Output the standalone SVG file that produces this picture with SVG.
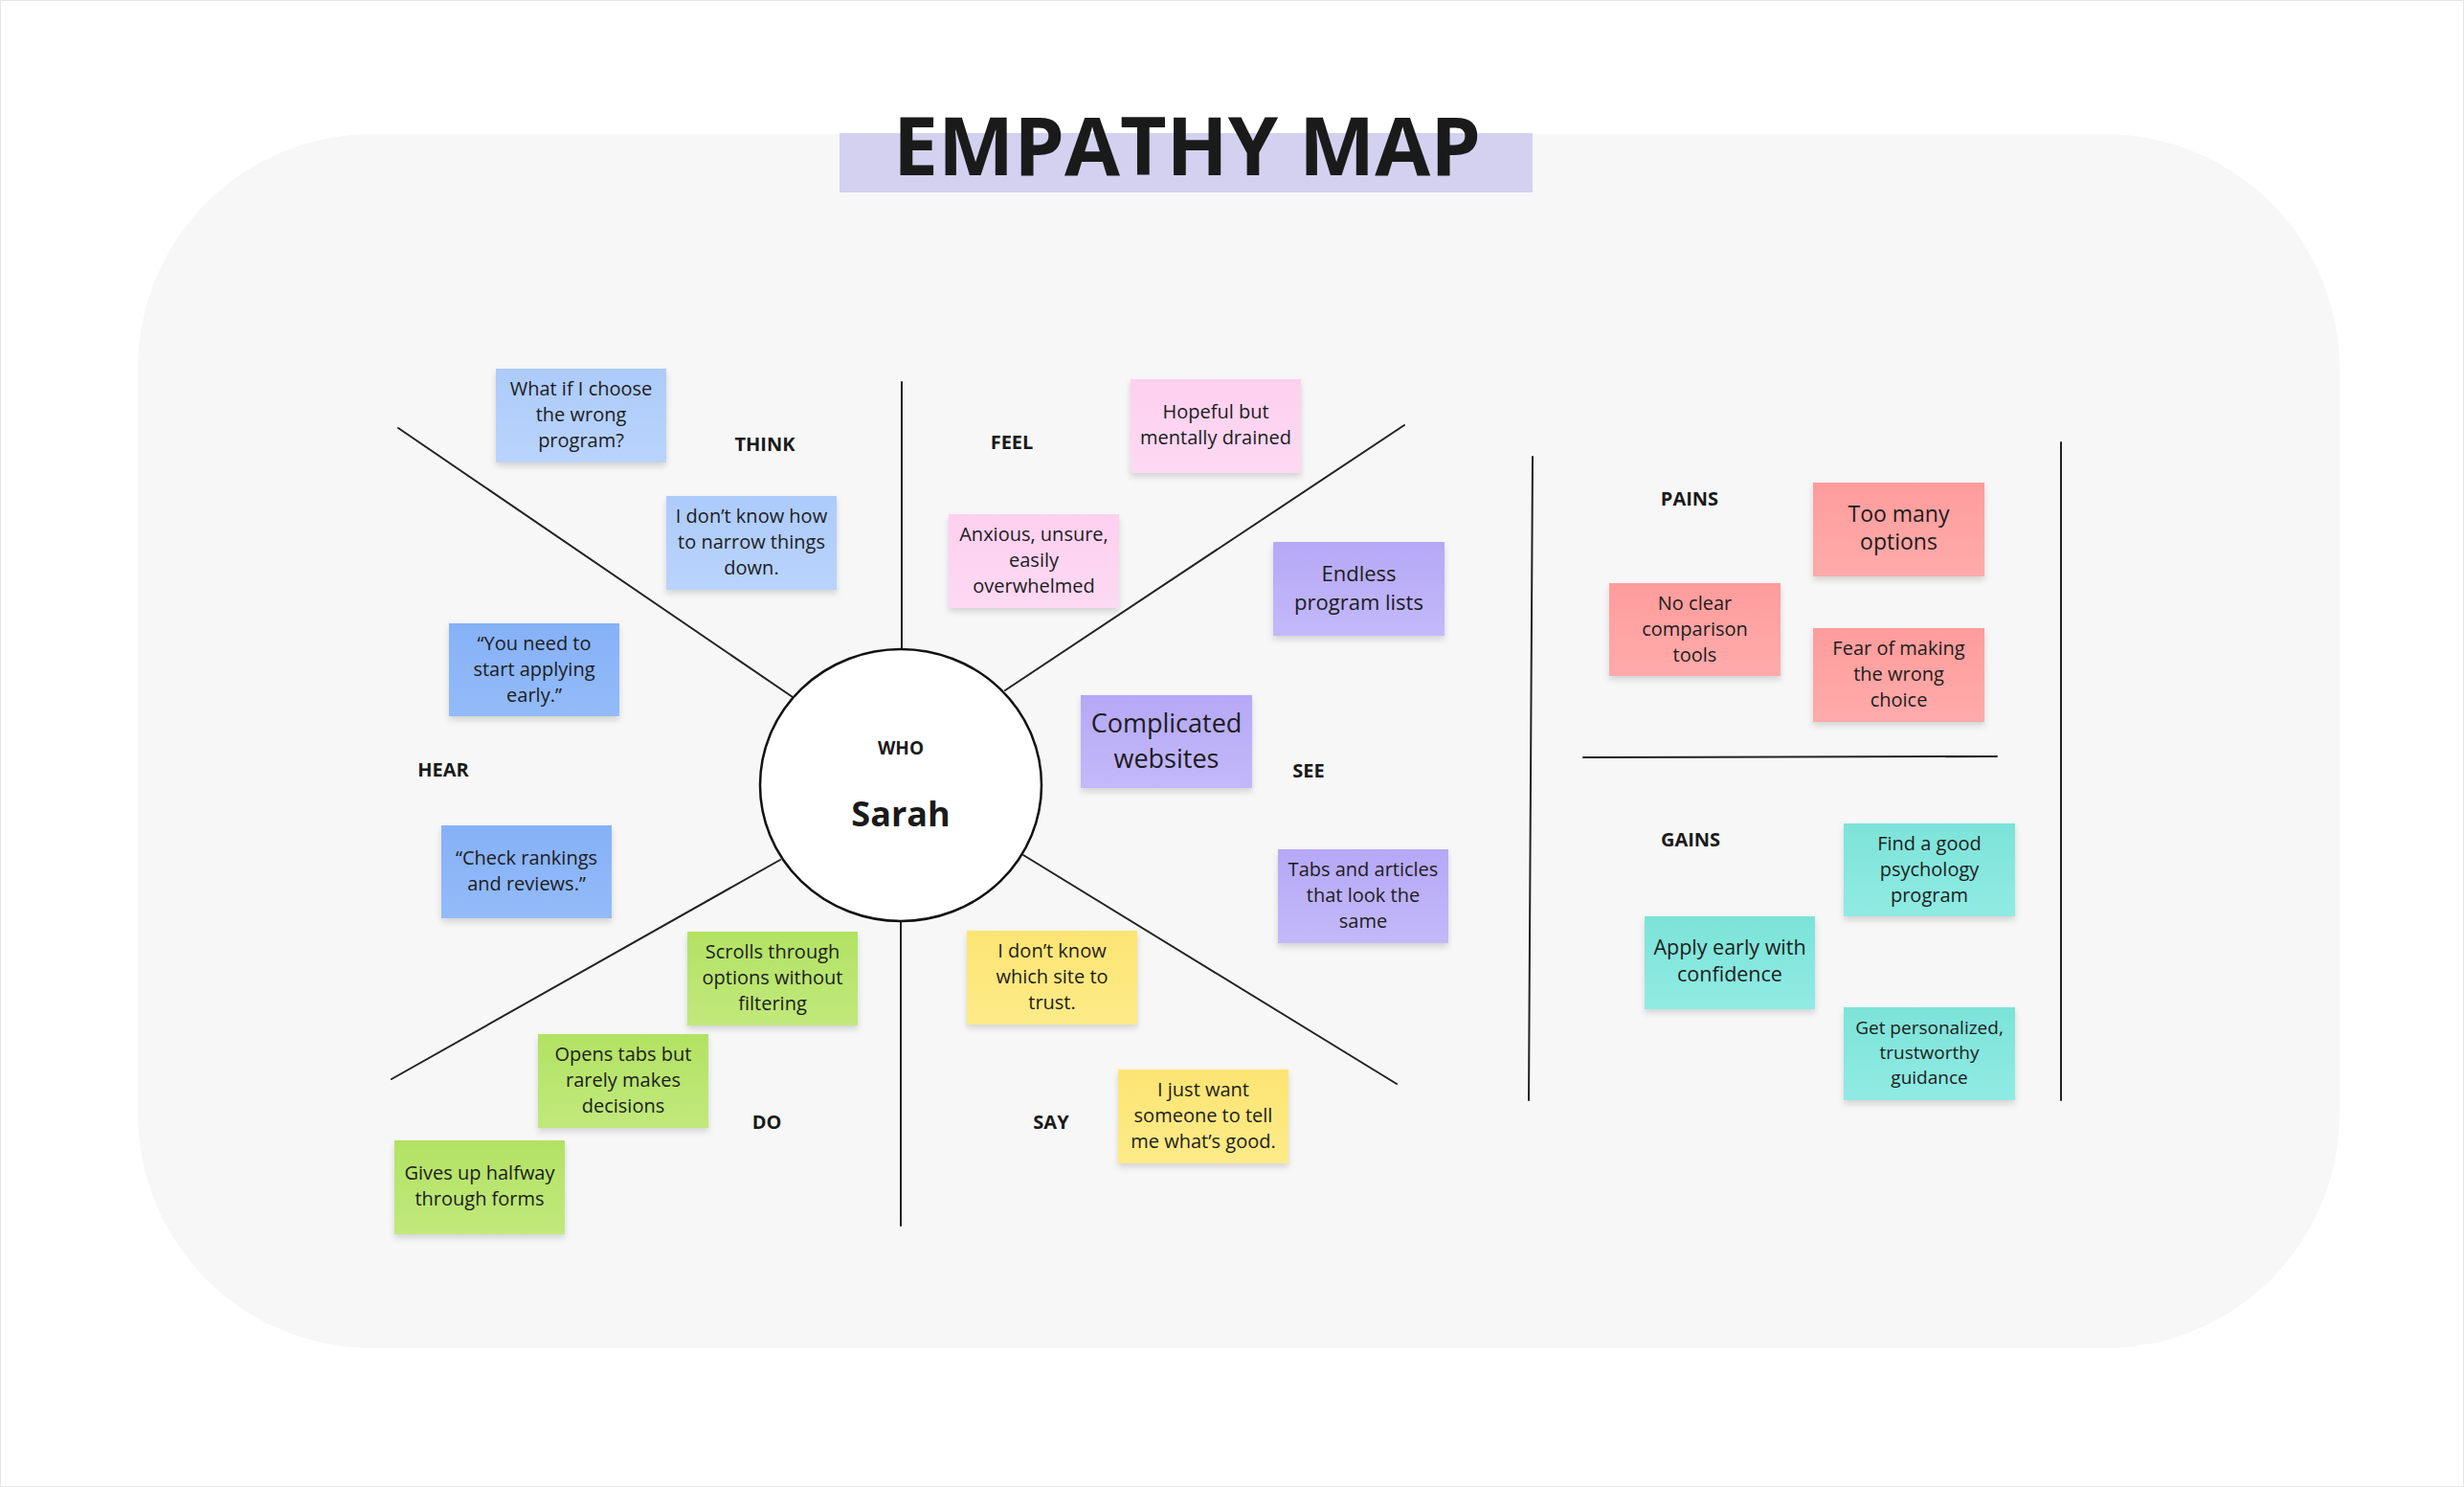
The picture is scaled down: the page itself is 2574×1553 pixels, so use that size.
<svg xmlns="http://www.w3.org/2000/svg" width="2574" height="1553" viewBox="0 0 2574 1553">
  <defs>
    <filter id="sh" x="-10%" y="-10%" width="120%" height="130%">
      <feDropShadow dx="0" dy="4" stdDeviation="3" flood-color="#000" flood-opacity="0.14"/>
    </filter>
    <linearGradient id="gBlueL" x1="0" y1="0" x2="0" y2="1"><stop offset="0" stop-color="#adcbfb"/><stop offset="1" stop-color="#b9d4fc"/></linearGradient>
    <linearGradient id="gBlue" x1="0" y1="0" x2="0" y2="1"><stop offset="0" stop-color="#86b1f7"/><stop offset="1" stop-color="#93bbf9"/></linearGradient>
    <linearGradient id="gPink" x1="0" y1="0" x2="0" y2="1"><stop offset="0" stop-color="#fdd0ef"/><stop offset="1" stop-color="#fdd9f3"/></linearGradient>
    <linearGradient id="gPurple" x1="0" y1="0" x2="0" y2="1"><stop offset="0" stop-color="#b6a8f6"/><stop offset="1" stop-color="#c3b9fa"/></linearGradient>
    <linearGradient id="gGreen" x1="0" y1="0" x2="0" y2="1"><stop offset="0" stop-color="#b2e263"/><stop offset="1" stop-color="#c1e97c"/></linearGradient>
    <linearGradient id="gYellow" x1="0" y1="0" x2="0" y2="1"><stop offset="0" stop-color="#fde573"/><stop offset="1" stop-color="#fdeb88"/></linearGradient>
    <linearGradient id="gRed" x1="0" y1="0" x2="0" y2="1"><stop offset="0" stop-color="#ff9c9c"/><stop offset="1" stop-color="#ffabab"/></linearGradient>
    <linearGradient id="gTeal" x1="0" y1="0" x2="0" y2="1"><stop offset="0" stop-color="#7ce3d9"/><stop offset="1" stop-color="#90ebe3"/></linearGradient>
  </defs>
  <style>
    .note text { font-family: "Open Sans", "Liberation Sans", sans-serif; font-size: 20px; fill: #1c1c1c; text-anchor: middle; }
    .note rect { filter: url(#sh); }
    .note text.f22 { font-size: 22px; }
    .note text.f27 { font-size: 27px; }
    .note text.f23 { font-size: 23px; }
    .note text.f215 { font-size: 21.5px; }
    .note text.f19 { font-size: 19px; }
    .lbl { font-family: "Open Sans", "Liberation Sans", sans-serif; font-weight: 700; font-size: 20px; fill: #1a1a1a; text-anchor: middle; }
    .lbl.who { font-size: 19px; }
    .lbl.name { font-size: 36px; }
    .spoke { stroke: #222; stroke-width: 2; fill: none; stroke-linecap: round; }
  </style>

  <rect x="0.5" y="0.5" width="2573" height="1552" fill="#ffffff" stroke="#e6e6e6" stroke-width="1"/>
  <rect id="board" x="144" y="140" width="2300" height="1268" rx="245" ry="245" fill="#f7f7f7"/>

  <g id="title">
    <rect x="877" y="139" width="724" height="62" fill="#d3d1ef"/>
    <text x="1240" y="183" style="font-family:'Open Sans','Liberation Sans',sans-serif;font-weight:700;font-size:84px" fill="#1a1a1a" text-anchor="middle">EMPATHY MAP</text>
  </g>

  <g id="connectors">
    <line class="spoke" x1="942" y1="399" x2="942" y2="678"/>
    <line class="spoke" x1="941" y1="962" x2="941" y2="1280"/>
    <line class="spoke" x1="416" y1="447" x2="828" y2="728"/>
    <line class="spoke" x1="1050" y1="721" x2="1467" y2="444"/>
    <line class="spoke" x1="815" y1="898" x2="409" y2="1127"/>
    <line class="spoke" x1="1069" y1="893" x2="1459" y2="1132"/>
    <line class="spoke" x1="1601" y1="477" x2="1597" y2="1149"/>
    <line class="spoke" x1="2153" y1="462" x2="2153" y2="1149"/>
    <line class="spoke" x1="1654" y1="791" x2="2086" y2="790"/>
  </g>

  <g id="who">
    <ellipse cx="941" cy="820" rx="147" ry="142" fill="#ffffff" stroke="#111" stroke-width="2.5"/>
    <text class="lbl who" x="941" y="788">WHO</text>
    <text class="lbl name" x="941" y="863">Sarah</text>
  </g>

  <g id="labels">
    <text id="lbl-think" class="lbl" x="799" y="471">THINK</text>
    <text id="lbl-feel" class="lbl" x="1057" y="469">FEEL</text>
    <text id="lbl-hear" class="lbl" x="463" y="811">HEAR</text>
    <text id="lbl-see" class="lbl" x="1367" y="812">SEE</text>
    <text id="lbl-do" class="lbl" x="801" y="1179">DO</text>
    <text id="lbl-say" class="lbl" x="1098" y="1179">SAY</text>
    <text id="lbl-pains" class="lbl" x="1765" y="528">PAINS</text>
    <text id="lbl-gains" class="lbl" x="1766" y="884">GAINS</text>
  </g>

  <g id="think-1" class="note">
    <rect x="518" y="385" width="178" height="98" fill="url(#gBlueL)"/>
    <text x="607" y="413">What if I choose</text>
    <text x="607" y="440">the wrong</text>
    <text x="607" y="467">program?</text>
  </g>
  <g id="think-2" class="note">
    <rect x="696" y="518" width="178" height="98" fill="url(#gBlueL)"/>
    <text x="785" y="546">I don’t know how</text>
    <text x="785" y="573">to narrow things</text>
    <text x="785" y="600">down.</text>
  </g>
  <g id="hear-1" class="note">
    <rect x="469" y="651" width="178" height="97" fill="url(#gBlue)"/>
    <text x="558" y="679">“You need to</text>
    <text x="558" y="706">start applying</text>
    <text x="558" y="733">early.”</text>
  </g>
  <g id="hear-2" class="note">
    <rect x="461" y="862" width="178" height="97" fill="url(#gBlue)"/>
    <text x="550" y="903">“Check rankings</text>
    <text x="550" y="930">and reviews.”</text>
  </g>
  <g id="feel-1" class="note">
    <rect x="1181" y="396" width="178" height="98" fill="url(#gPink)"/>
    <text x="1270" y="437">Hopeful but</text>
    <text x="1270" y="464">mentally drained</text>
  </g>
  <g id="feel-2" class="note">
    <rect x="991" y="537" width="178" height="98" fill="url(#gPink)"/>
    <text x="1080" y="565">Anxious, unsure,</text>
    <text x="1080" y="592">easily</text>
    <text x="1080" y="619">overwhelmed</text>
  </g>
  <g id="see-1" class="note">
    <rect x="1330" y="566" width="179" height="98" fill="url(#gPurple)"/>
    <text class="f22" x="1419.5" y="607">Endless</text>
    <text class="f22" x="1419.5" y="637">program lists</text>
  </g>
  <g id="see-2" class="note">
    <rect x="1129" y="726" width="179" height="97" fill="url(#gPurple)"/>
    <text class="f27" x="1218.5" y="765">Complicated</text>
    <text class="f27" x="1218.5" y="802">websites</text>
  </g>
  <g id="see-3" class="note">
    <rect x="1335" y="887" width="178" height="98" fill="url(#gPurple)"/>
    <text x="1424" y="915">Tabs and articles</text>
    <text x="1424" y="942">that look the</text>
    <text x="1424" y="969">same</text>
  </g>
  <g id="do-1" class="note">
    <rect x="718" y="973" width="178" height="98" fill="url(#gGreen)"/>
    <text x="807" y="1001">Scrolls through</text>
    <text x="807" y="1028">options without</text>
    <text x="807" y="1055">filtering</text>
  </g>
  <g id="do-2" class="note">
    <rect x="562" y="1080" width="178" height="98" fill="url(#gGreen)"/>
    <text x="651" y="1108">Opens tabs but</text>
    <text x="651" y="1135">rarely makes</text>
    <text x="651" y="1162">decisions</text>
  </g>
  <g id="do-3" class="note">
    <rect x="412" y="1191" width="178" height="98" fill="url(#gGreen)"/>
    <text x="501" y="1232">Gives up halfway</text>
    <text x="501" y="1259">through forms</text>
  </g>
  <g id="say-1" class="note">
    <rect x="1010" y="972" width="178" height="98" fill="url(#gYellow)"/>
    <text x="1099" y="1000">I don’t know</text>
    <text x="1099" y="1027">which site to</text>
    <text x="1099" y="1054">trust.</text>
  </g>
  <g id="say-2" class="note">
    <rect x="1168" y="1117" width="178" height="98" fill="url(#gYellow)"/>
    <text x="1257" y="1145">I just want</text>
    <text x="1257" y="1172">someone to tell</text>
    <text x="1257" y="1199">me what’s good.</text>
  </g>
  <g id="pain-1" class="note">
    <rect x="1894" y="504" width="179" height="98" fill="url(#gRed)"/>
    <text class="f23" x="1983.5" y="545">Too many</text>
    <text class="f23" x="1983.5" y="574">options</text>
  </g>
  <g id="pain-2" class="note">
    <rect x="1681" y="609" width="179" height="97" fill="url(#gRed)"/>
    <text x="1770.5" y="637">No clear</text>
    <text x="1770.5" y="664">comparison</text>
    <text x="1770.5" y="691">tools</text>
  </g>
  <g id="pain-3" class="note">
    <rect x="1894" y="656" width="179" height="98" fill="url(#gRed)"/>
    <text x="1983.5" y="684">Fear of making</text>
    <text x="1983.5" y="711">the wrong</text>
    <text x="1983.5" y="738">choice</text>
  </g>
  <g id="gain-1" class="note">
    <rect x="1926" y="860" width="179" height="97" fill="url(#gTeal)"/>
    <text x="2015.5" y="888">Find a good</text>
    <text x="2015.5" y="915">psychology</text>
    <text x="2015.5" y="942">program</text>
  </g>
  <g id="gain-2" class="note">
    <rect x="1718" y="957" width="178" height="97" fill="url(#gTeal)"/>
    <text class="f215" x="1807" y="997">Apply early with</text>
    <text class="f215" x="1807" y="1025">confidence</text>
  </g>
  <g id="gain-3" class="note">
    <rect x="1926" y="1052" width="179" height="97" fill="url(#gTeal)"/>
    <text class="f19" x="2015.5" y="1080">Get personalized,</text>
    <text class="f19" x="2015.5" y="1106">trustworthy</text>
    <text class="f19" x="2015.5" y="1132">guidance</text>
  </g>
</svg>
